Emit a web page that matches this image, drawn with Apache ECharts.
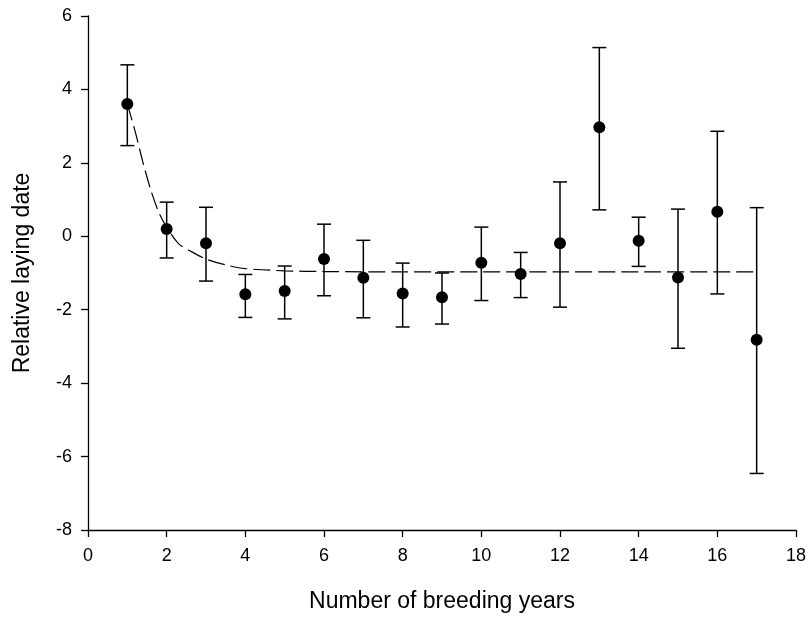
<!DOCTYPE html>
<html>
<head>
<meta charset="utf-8">
<script src="https://cdn.jsdelivr.net/npm/echarts@6/dist/echarts.min.js"></script>
<style>
  html, body { margin: 0; padding: 0; background: #fff; }
  #chart { width: 810px; height: 619px; }
</style>
</head>
<body>
<div id="chart"></div>
<script>
// data
var years = [1, 2, 3, 4, 5, 6, 7, 8, 9, 10, 11, 12, 13, 14, 15, 16, 17];
var means = [3.6, 0.2, -0.19, -1.58, -1.49, -0.62, -1.13, -1.56, -1.66, -0.72, -1.03, -0.19, 2.97, -0.12, -1.12, 0.67, -2.82];
var upper = [4.67, 0.93, 0.79, -1.04, -0.81, 0.33, -0.11, -0.73, -1.0, 0.25, -0.44, 1.48, 5.14, 0.52, 0.74, 2.86, 0.78];
var lower = [2.47, -0.59, -1.22, -2.21, -2.25, -1.62, -2.22, -2.47, -2.39, -1.75, -1.67, -1.93, 0.72, -0.82, -3.05, -1.57, -6.46];

// fitted curve (dashed)
var fitX = [1, 1.2, 1.4, 1.6, 1.8, 2, 2.3, 2.6, 3, 3.5, 4, 5, 6, 8, 10, 12, 14, 17];
var fitY = [3.6, 2.85, 2.0, 1.25, 0.65, 0.25, -0.2, -0.4, -0.62, -0.78, -0.88, -0.94, -0.96, -0.97, -0.97, -0.97, -0.97, -0.97];

var xTicks = [0, 18, 2];
var yTicks = [-8, 6, 2];

var pts = [], bars = [], fit = [];
for (var i = 0; i < years.length; i++) {
    pts.push([years[i], means[i]]);
    bars.push([years[i], lower[i], upper[i]]);
}
for (var j = 0; j < fitX.length; j++) {
    fit.push([fitX[j], fitY[j]]);
}

var font = 'Liberation Sans, Arial, sans-serif';
var myChart = echarts.init(document.getElementById('chart'));

var option = {
    animation: false,
    grid: {left: 88, right: 14, top: 16, bottom: 89},
    xAxis: {
        type: 'value',
        min: xTicks[0], max: xTicks[1], interval: xTicks[2],
        name: 'Number of breeding years',
        nameLocation: 'middle',
        nameGap: 60,
        nameTextStyle: {fontFamily: font, fontSize: 23, color: '#000', verticalAlign: 'top'},
        axisLine: {onZero: false, lineStyle: {color: '#000', width: 1.3}},
        axisTick: {length: 7, lineStyle: {color: '#000', width: 1.3}},
        axisLabel: {fontFamily: font, fontSize: 18, color: '#000', margin: 17},
        splitLine: {show: false}
    },
    yAxis: {
        type: 'value',
        min: yTicks[0], max: yTicks[1], interval: yTicks[2],
        name: 'Relative laying date',
        nameLocation: 'middle',
        nameGap: 54,
        nameTextStyle: {fontFamily: font, fontSize: 23, color: '#000'},
        axisLine: {onZero: false, lineStyle: {color: '#000', width: 1.3}},
        axisTick: {length: 7, lineStyle: {color: '#000', width: 1.3}},
        axisLabel: {fontFamily: font, fontSize: 18, color: '#000', margin: 16},
        splitLine: {show: false}
    },
    series: [{
        name: 'fit',
        type: 'line',
        data: fit,
        smooth: 0.3,
        showSymbol: false,
        lineStyle: {color: '#000', width: 1.2, type: [17, 6]},
        z: 1
    }, {
        name: 'se',
        type: 'custom',
        data: bars,
        renderItem: function (params, api) {
            var x = api.value(0);
            var lo = api.coord([x, api.value(1)]);
            var hi = api.coord([x, api.value(2)]);
            var w = 7;
            var st = {stroke: '#000', lineWidth: 1.5};
            return {
                type: 'group',
                children: [
                    {type: 'line', shape: {x1: lo[0], y1: lo[1], x2: hi[0], y2: hi[1]}, style: st},
                    {type: 'line', shape: {x1: hi[0] - w, y1: hi[1], x2: hi[0] + w, y2: hi[1]}, style: st},
                    {type: 'line', shape: {x1: lo[0] - w, y1: lo[1], x2: lo[0] + w, y2: lo[1]}, style: st}
                ]
            };
        },
        z: 2
    }, {
        name: 'mean',
        type: 'scatter',
        data: pts,
        symbolSize: 12,
        itemStyle: {color: '#000', opacity: 1},
        z: 3
    }]
};

myChart.setOption(option);
</script>
</body>
</html>
